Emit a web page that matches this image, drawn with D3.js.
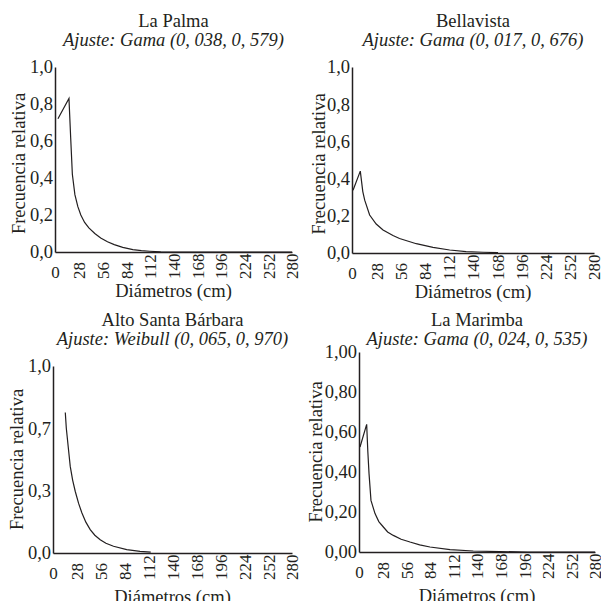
<!DOCTYPE html>
<html>
<head>
<meta charset="utf-8">
<script src="https://cdn.jsdelivr.net/npm/d3@7"></script>
<style>
  body { margin: 0; background: #fff; }
  svg { display: block; }
  svg text { font-family: "Liberation Serif", "Times New Roman", Times, "DejaVu Serif", serif; }
</style>
</head>
<body>
<div id="chart"></div>
<script>
// chart data
var sites = ["La Palma", "Bellavista", "Alto Santa Bárbara", "La Marimba"];
var fits = ["Ajuste: Gama (0, 038, 0, 579)", "Ajuste: Gama (0, 017, 0, 676)",
            "Ajuste: Weibull (0, 065, 0, 970)", "Ajuste: Gama (0, 024, 0, 535)"];
var xTicks = [0, 28, 56, 84, 112, 140, 168, 196, 224, 252, 280];
var yTicksFifths = [0, 0.2, 0.4, 0.6, 0.8, 1.0];
var yTicksThirds = [0, 1 / 3, 2 / 3, 1];

var palmaDiam = [3.5, 16.5, 18.5, 20.5, 23.5, 27, 30.5, 35, 40, 47, 54, 62, 70, 80, 92, 102, 112, 125, 140, 280];
var palmaFreq = [0.72, 0.83, 0.62, 0.42, 0.31, 0.245, 0.2, 0.16, 0.13, 0.1, 0.076, 0.055, 0.04, 0.025, 0.013, 0.007, 0.004, 0.001, 0, 0];

var bellaDiam = [1.2, 9.6, 12.5, 14.7, 20.4, 28, 35.9, 47.4, 55, 74.4, 93.7, 113, 132, 151.6, 169];
var bellaFreq = [0.337, 0.44, 0.33, 0.284, 0.204, 0.156, 0.124, 0.094, 0.078, 0.05, 0.03, 0.016, 0.007, 0.004, 0.002];

var altoDiam = [14.4, 15.6, 18, 20.2, 23, 26.1, 30, 33.9, 38.5, 43.6, 49, 55.3, 62, 70.9, 86.4, 102, 114.5];
var altoFreq = [0.751, 0.667, 0.56, 0.463, 0.39, 0.329, 0.265, 0.214, 0.165, 0.125, 0.095, 0.071, 0.052, 0.036, 0.018, 0.009, 0.005];

var marimbaDiam = [1.2, 9.1, 10.5, 11.9, 14.2, 19, 23.5, 28.9, 34, 40.7, 50, 60.5, 72, 84.2, 108, 135.6, 167, 200, 280];
var marimbaFreq = [0.525, 0.638, 0.5, 0.392, 0.258, 0.192, 0.152, 0.125, 0.1, 0.083, 0.064, 0.05, 0.036, 0.025, 0.012, 0.005, 0.002, 0, 0];

var diams = [palmaDiam, bellaDiam, altoDiam, marimbaDiam];
var freqs = [palmaFreq, bellaFreq, altoFreq, marimbaFreq];
var yTicks = [yTicksFifths, yTicksFifths, yTicksThirds, yTicksFifths];
var yFormats = [",.1f", ",.1f", ",.1f", ",.2f"];

// layout (pixels)
var boxes = [
  {l: 55,  r: 292, t: 67,  b: 252, titleY: 27,  yLabX: 25},
  {l: 352, r: 594, t: 67,  b: 253, titleY: 27,  yLabX: 325},
  {l: 53,  r: 292, t: 366, b: 553, titleY: 326, yLabX: 23},
  {l: 359, r: 595, t: 352, b: 552, titleY: 326, yLabX: 322}
];

var ink = "#231f20";

var es = d3.formatLocale({decimal: ",", thousands: ".", grouping: [3], currency: ["", ""]});

var svg = d3.select("#chart").append("svg")
  .attr("width", 601)
  .attr("height", 601);

boxes.forEach(function (b, i) {
  var x = d3.scaleLinear().domain([0, 280]).range([b.l, b.r]);
  var y = d3.scaleLinear().domain([0, 1]).range([b.b, b.t]);
  var cx = (b.l + b.r) / 2;

  svg.append("text")
    .attr("x", cx).attr("y", b.titleY)
    .attr("text-anchor", "middle")
    .style("font-size", "18.5px").style("fill", ink)
    .text(sites[i]);

  svg.append("text")
    .attr("x", cx).attr("y", b.titleY + 19)
    .attr("text-anchor", "middle")
    .style("font-size", "18.5px").style("font-style", "italic").style("fill", ink)
    .text(fits[i]);

  // y axis
  var ya = svg.append("g")
    .attr("transform", "translate(" + b.l + ",0)")
    .call(d3.axisLeft(y).tickValues(yTicks[i]).tickFormat(es.format(yFormats[i]))
      .tickSize(0).tickSizeOuter(0).tickPadding(2));
  ya.attr("font-family", null).attr("font-size", null);
  ya.select(".domain").attr("stroke", ink).attr("stroke-width", 1.5);
  ya.selectAll("text").style("font-size", "18.5px").style("fill", ink);

  // x axis, labels rotated and aligned at their bottom end
  var xa = svg.append("g")
    .attr("transform", "translate(0," + b.b + ")")
    .call(d3.axisBottom(x).tickValues(xTicks).tickSize(0).tickSizeOuter(0));
  xa.attr("font-family", null).attr("font-size", null);
  xa.select(".domain").attr("stroke", ink).attr("stroke-width", 1.5);
  xa.selectAll("text")
    .style("font-size", "17px").style("fill", ink)
    .each(function (d) {
      var t = d3.select(this);
      if (d === 0) {
        t.attr("y", 26).attr("dy", null).attr("text-anchor", "middle");
      } else {
        t.attr("transform", "rotate(-90)")
          .attr("x", -27).attr("y", 0).attr("dy", "0.35em")
          .attr("text-anchor", "start");
      }
    });

  // axis titles
  svg.append("text")
    .attr("transform", "translate(" + b.yLabX + "," + ((b.t + b.b) / 2 + (i < 2 ? 4 : 0)) + ") rotate(-90)")
    .attr("text-anchor", "middle")
    .style("font-size", "18.5px").style("fill", ink)
    .text("Frecuencia relativa");

  svg.append("text")
    .attr("x", cx).attr("y", b.b + (i < 2 ? 45 : 50))
    .attr("text-anchor", "middle")
    .style("font-size", "18.5px").style("fill", ink)
    .text("Diámetros (cm)");

  // fitted curve
  var line = d3.line()
    .x(function (d) { return x(d[0]); })
    .y(function (d) { return y(d[1]); });

  svg.append("path")
    .datum(d3.zip(diams[i], freqs[i]))
    .attr("fill", "none")
    .attr("stroke", ink)
    .attr("stroke-width", 1.2)
    .attr("d", line);
});
</script>
</body>
</html>
